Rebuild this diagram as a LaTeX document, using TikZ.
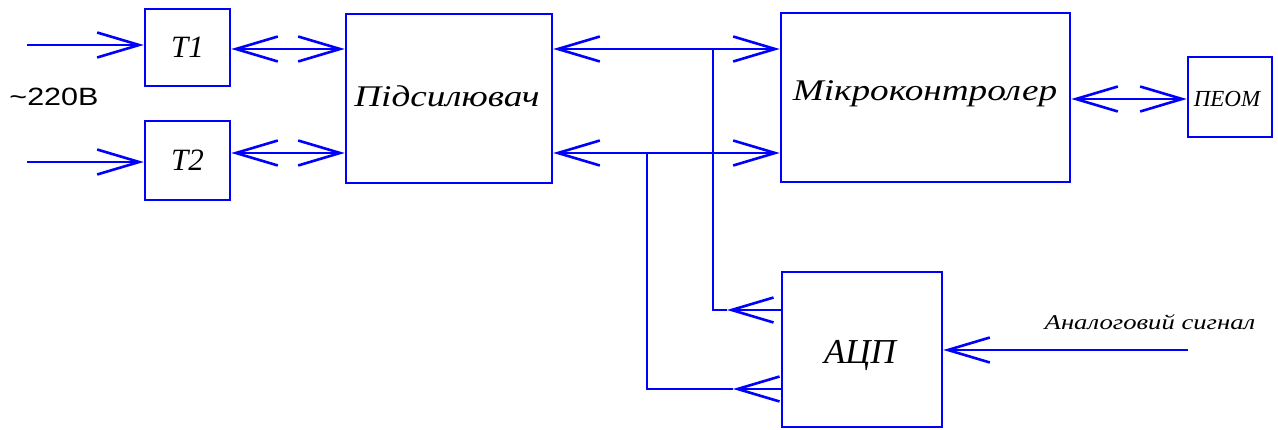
\documentclass[tikz,border=0pt]{standalone}
\usepackage{fontspec}
\setmainfont{Liberation Serif}
\newfontfamily\arialf{Liberation Sans}
\usetikzlibrary{arrows.meta}
\definecolor{lineblue}{RGB}{0,0,255}
\tikzset{
  blk/.style={draw=lineblue,line width=2.6pt,minimum width=#1,inner sep=0pt},
  tip/.tip={Straight Barb[length=42pt,width=25pt,line width=2.6pt]},
  arr/.style={draw=lineblue,line width=2.6pt,-tip},
  barr/.style={draw=lineblue,line width=2.6pt,tip-tip},
  wire/.style={draw=lineblue,line width=2.6pt},
  lbl/.style={font=\itshape\fontsize{#1}{#1}\selectfont,text=black},
}
\begin{document}
\begin{tikzpicture}[x=1pt,y=-1pt]
\useasboundingbox (0,0) rectangle (1278,430);
% boxes
\node[blk=85pt,minimum height=77pt] (t1) at (187.5,47.5) {};
\node[lbl=31pt] at (t1.center) {T1};
\node[blk=85pt,minimum height=79pt] (t2) at (187.5,160.5) {};
\node[lbl=31pt] at (t2.center) {T2};
\node[blk=206pt,minimum height=169pt] (amp) at (449,98.5) {};
\node[lbl=30pt] at (447,96) {\scalebox{1.24}[1]{Підсилювач}};
\node[blk=289pt,minimum height=169pt] (mcu) at (925.5,97.5) {};
\node[lbl=30pt] at (925,94) {\scalebox{1.24}[1]{Мікроконтролер}};
\node[blk=84pt,minimum height=80pt] (pc) at (1230,97) {};
\node[lbl=23pt] at (1227,99) {ПЕОМ};
\node[blk=160pt,minimum height=155pt] (adc) at (862,349.5) {};
\node[lbl=35pt] at (860,356) {АЦП};
% texts
\node[text=black,font=\arialf\fontsize{25pt}{25pt}\selectfont] (v) at (54,97) {\scalebox{1.22}[1]{\textasciitilde220В}};
\node[lbl=21pt] (as) at (1150,322) {\scalebox{1.27}[1]{Аналоговий сигнал}};
% coordinates
\coordinate (in1) at (27,45);
\coordinate (in2) at (27,162);
\coordinate (ain) at (1188,350);
\coordinate (ja) at (727,310);
\coordinate (jb) at (733,389);
\coordinate (va) at (713,310);
\coordinate (vb) at (647,389);
% connectors
\draw[arr] (in1) -- (t1.west |- in1);
\draw[arr] (in2) -- (t2.west |- in2);
\draw[barr] (t1.east |- 0,49) -- (amp.west |- 0,49);
\draw[barr] (t2.east |- 0,153) -- (amp.west |- 0,153);
\draw[barr] (amp.east |- 0,49) -- (mcu.west |- 0,49);
\draw[barr] (amp.east |- 0,153) -- (mcu.west |- 0,153);
\draw[barr] (mcu.east |- 0,99) -- (pc.west |- 0,99);
\draw[arr] (ain) -- (adc.east |- ain);
\draw[arr] (adc.west |- ja) -- (ja);
\draw[wire] (ja) -- (va) -- (va |- 0,49);
\draw[arr] (adc.west |- jb) -- (jb);
\draw[wire] (jb) -- (vb) -- (vb |- 0,153);
\end{tikzpicture}
\end{document}
